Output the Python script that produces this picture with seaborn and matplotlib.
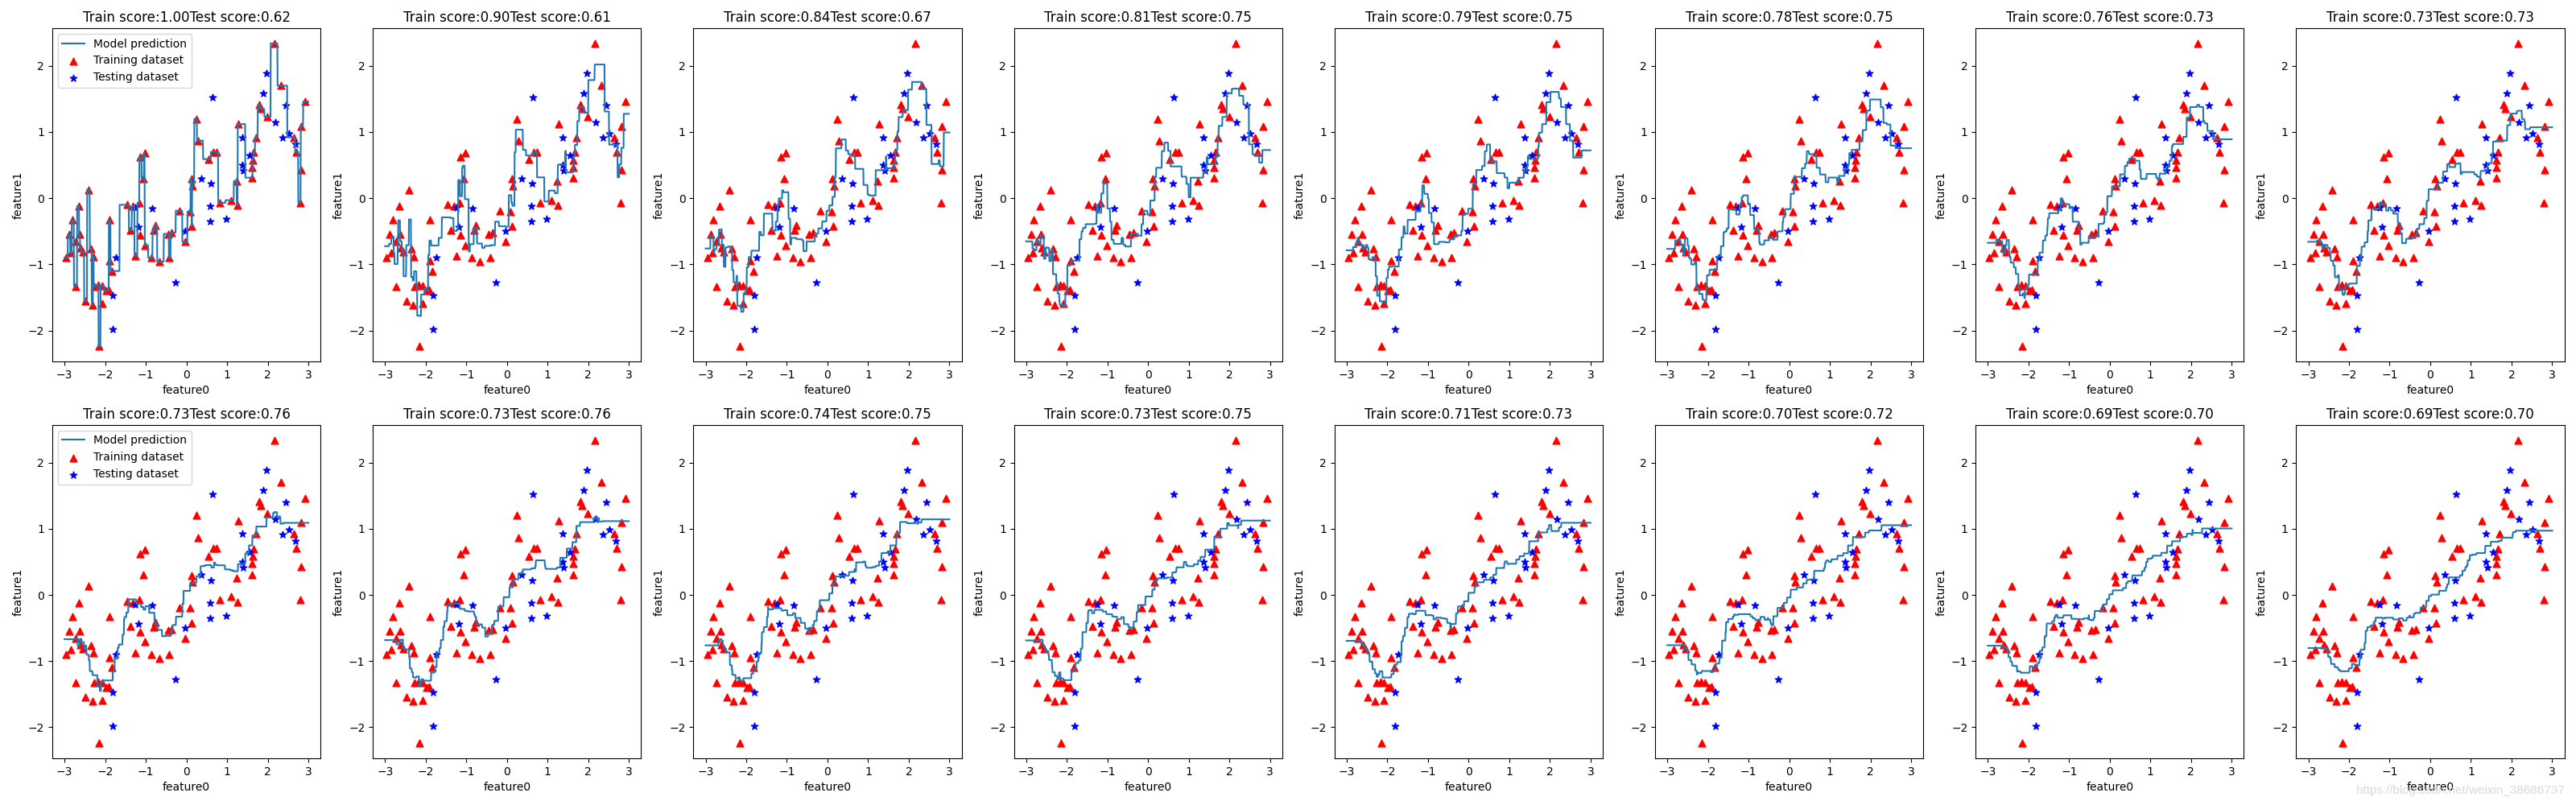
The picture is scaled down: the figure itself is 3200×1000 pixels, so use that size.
import matplotlib
matplotlib.use("Agg")
import matplotlib.pyplot as plt
import numpy as np
import seaborn as sns

# training points (red triangles)
train_x = [-2.96, -2.88, -2.84, -2.81, -2.73, -2.73, -2.65, -2.63, -2.61, -2.55,
           -2.48, -2.41, -2.35, -2.31, -2.29, -2.27, -2.17, -2.15, -2.08, -2.08,
           -1.98, -1.92, -1.90, -1.90, -1.83, -1.46, -1.38, -1.31, -1.25, -1.17,
           -1.15, -1.15, -1.06, -1.03, -1.02, -0.86, -0.81, -0.77, -0.67, -0.45,
           -0.42, -0.36, -0.17, -0.04, 0.09, 0.12, 0.13, 0.15, 0.24, 0.28,
           0.54, 0.66, 0.74, 0.82, 1.10, 1.23, 1.25, 1.27, 1.62, 1.62,
           1.63, 1.66, 1.71, 1.80, 1.84, 1.99, 2.16, 2.32, 2.64, 2.70,
           2.80, 2.82, 2.82, 2.92]
train_y = [-0.90, -0.55, -0.83, -0.33, -1.33, -0.66, -0.12, -0.55, -0.75, -0.81,
           -1.55, 0.13, -0.77, -1.61, -0.88, -1.33, -1.31, -2.24, -1.32, -1.59,
           -1.40, -1.39, -0.33, -0.95, -1.10, -0.10, -0.48, -0.12, -0.87, -0.07,
           0.62, -0.56, 0.30, 0.68, -0.71, -0.90, -0.49, -0.41, -0.96, -0.54,
           -0.90, -0.52, -0.19, -0.66, -0.20, 0.29, -0.42, 0.19, 1.20, 0.87,
           0.59, 0.70, 0.70, -0.07, -0.03, 0.26, -0.11, 1.12, 0.31, 0.47,
           0.58, 0.69, 0.92, 1.41, 1.35, 1.23, 2.34, 1.70, 0.92, 0.70,
           -0.07, 1.09, 0.43, 1.46]

# testing points (blue stars)
test_x = [-1.81, -1.81, -1.74, -1.25, -1.18, -0.84, -0.27, -0.03, 0.36, 0.59,
          0.59, 0.61, 0.64, 0.98, 1.37, 1.37, 1.40, 1.55, 1.89, 1.97,
          2.18, 2.36, 2.44, 2.52, 2.68]
test_y = [-1.47, -1.98, -0.90, -0.14, -0.44, -0.16, -1.28, -0.50, 0.30, -0.35,
          -0.12, 0.22, 1.52, -0.32, 0.92, 0.50, 0.41, 0.65, 1.58, 1.89,
          1.14, 0.91, 1.40, 0.98, 0.82]

n_neighbors = list(range(1, 17))
train_scores = [1.00, 0.90, 0.84, 0.81, 0.79, 0.78, 0.76, 0.73,
                0.73, 0.73, 0.74, 0.73, 0.71, 0.70, 0.69, 0.69]
test_scores = [0.62, 0.61, 0.67, 0.75, 0.75, 0.75, 0.73, 0.73,
               0.76, 0.76, 0.75, 0.75, 0.73, 0.72, 0.70, 0.70]

xtr = np.array(train_x)
ytr = np.array(train_y)
line = np.linspace(-3, 3, 1000)
dist = np.abs(line[:, None] - xtr[None, :])
order = np.argsort(dist, axis=1, kind="stable")

fig, axes = plt.subplots(2, 8, figsize=(32, 10))
fig.subplots_adjust(left=0.0203, right=0.9955, bottom=0.058, top=0.965,
                    wspace=0.195, hspace=0.19)

for i, (k, ax) in enumerate(zip(n_neighbors, axes.ravel())):
    pred = ytr[order[:, :k]].mean(axis=1)
    sns.lineplot(x=line, y=pred, ax=ax, estimator=None, sort=False,
                 color="C0", label="Model prediction", legend=False)
    sns.scatterplot(x=train_x, y=train_y, ax=ax, marker="^", color="red",
                    edgecolor="red", s=40, linewidth=1,
                    label="Training dataset", legend=False)
    sns.scatterplot(x=test_x, y=test_y, ax=ax, marker="*", color="blue",
                    edgecolor="blue", s=40, linewidth=1,
                    label="Testing dataset", legend=False)
    ax.set_title("Train score:{:.2f}Test score:{:.2f}".format(
        train_scores[i], test_scores[i]))
    ax.set_xlabel("feature0")
    ax.set_ylabel("feature1")
    if i % 8 == 0:
        ax.legend(loc="upper left")

fig.text(0.9955, 0.018, "https://blog.csdn.net/weixin_38686737", ha="right",
         va="center", fontsize=11, color="#d8d8d8", family="Liberation Sans")

plt.savefig("out.png", dpi=100)
